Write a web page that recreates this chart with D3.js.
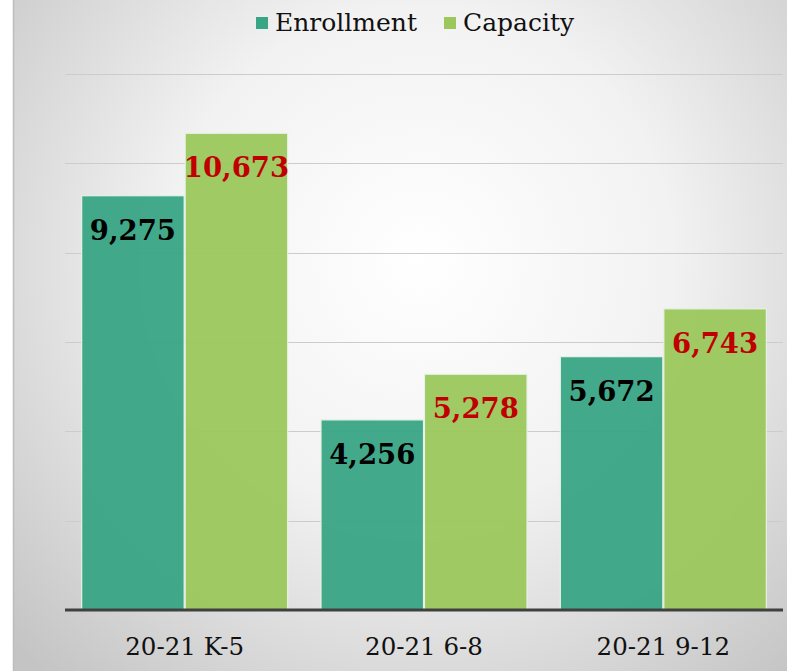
<!DOCTYPE html>
<html><head><meta charset="utf-8">
<script src="https://cdn.jsdelivr.net/npm/d3@7"></script>
<style>html,body{margin:0;padding:0;background:#fff;}svg{display:block;}</style>
</head><body>
<script>
const categories = ["20-21 K-5", "20-21 6-8", "20-21 9-12"];
const seriesNames = ["Enrollment", "Capacity"];
const enrollment = [9275, 4256, 5672];
const capacity = [10673, 5278, 6743];
const yTicks = [0, 2000, 4000, 6000, 8000, 10000, 12000];

const W = 787, H = 671;
const colors = {Enrollment: "#38a585", Capacity: "#9bc75b"};
const labelColors = {Enrollment: "#000000", Capacity: "#c00000"};
const font = "'DejaVu Serif', serif";

const svg = d3.select("body").append("svg").attr("width", W).attr("height", H);
const defs = svg.append("defs");
const rg = defs.append("radialGradient").attr("id", "bg")
  .attr("gradientUnits", "userSpaceOnUse").attr("cx", 420).attr("cy", 260).attr("r", 560);
rg.append("stop").attr("offset", "0").attr("stop-color", "#ffffff");
rg.append("stop").attr("offset", "0.45").attr("stop-color", "#f2f2f2");
rg.append("stop").attr("offset", "1").attr("stop-color", "#c4c4c4");

svg.append("rect").attr("x", 13).attr("y", 0).attr("width", W - 13).attr("height", H).attr("fill", "url(#bg)");
svg.append("line").attr("x1", 13.5).attr("x2", 13.5).attr("y1", 0).attr("y2", H).attr("stroke", "#bdbdbd").attr("stroke-width", 1.5);

const x0 = d3.scaleBand().domain(categories).range([65, 783]).paddingInner(0.135).paddingOuter(0.0675);
const x1 = d3.scaleBand().domain(seriesNames).range([0, x0.bandwidth()]).padding(0);
const y = d3.scaleLinear().domain([0, 12000]).range([610, 74]);

// gridlines
svg.append("g").selectAll("line").data(yTicks.filter(d => d > 0)).join("line")
  .attr("x1", 65).attr("x2", 783)
  .attr("y1", d => Math.round(y(d)) + 0.5).attr("y2", d => Math.round(y(d)) + 0.5)
  .attr("stroke", "#cccccc").attr("stroke-width", 1.2);

const data = categories.map((c, i) => ({cat: c, vals: [
  {s: "Enrollment", v: enrollment[i]}, {s: "Capacity", v: capacity[i]}]}));

const groups = svg.append("g").selectAll("g").data(data).join("g")
  .attr("transform", d => `translate(${x0(d.cat)},0)`);
groups.selectAll("rect").data(d => d.vals).join("rect")
  .attr("x", d => x1(d.s) + 0.5).attr("y", d => y(d.v))
  .attr("width", x1.bandwidth() - 1).attr("height", d => y(0) - y(d.v))
  .attr("fill", d => colors[d.s]).attr("fill-opacity", 0.95)
  .attr("stroke", "#e6f2e6").attr("stroke-width", 1.2);

groups.selectAll("text").data(d => d.vals).join("text")
  .attr("x", d => x1(d.s) + x1.bandwidth() / 2).attr("y", d => y(d.v) + 44)
  .attr("text-anchor", "middle").attr("font-family", font).attr("font-weight", "bold")
  .attr("font-size", 27.5).attr("fill", d => labelColors[d.s])
  .text(d => d3.format(",")(d.v));

// baseline
svg.append("line").attr("x1", 65).attr("x2", 783).attr("y1", y(0)).attr("y2", y(0))
  .attr("stroke", "#404040").attr("stroke-width", 3);

// x axis labels
const xAxis = d3.axisBottom(x0).tickSize(0).tickPadding(0);
const gx = svg.append("g").attr("transform", `translate(0,${y(0)})`).call(xAxis);
gx.select(".domain").remove();
gx.selectAll("text").attr("font-family", font).attr("font-size", 24.5).attr("fill", "#111")
  .attr("dy", null).attr("y", 45);

// legend
const leg = svg.append("g");
const legX = [256, 444];
seriesNames.forEach((s, i) => {
  leg.append("rect").attr("x", legX[i]).attr("y", 17).attr("width", 12).attr("height", 12).attr("fill", colors[s]);
  leg.append("text").attr("x", legX[i] + 19).attr("y", 31).attr("font-family", font)
    .attr("font-size", 25).attr("fill", "#111").text(s);
});
</script>
</body></html>
